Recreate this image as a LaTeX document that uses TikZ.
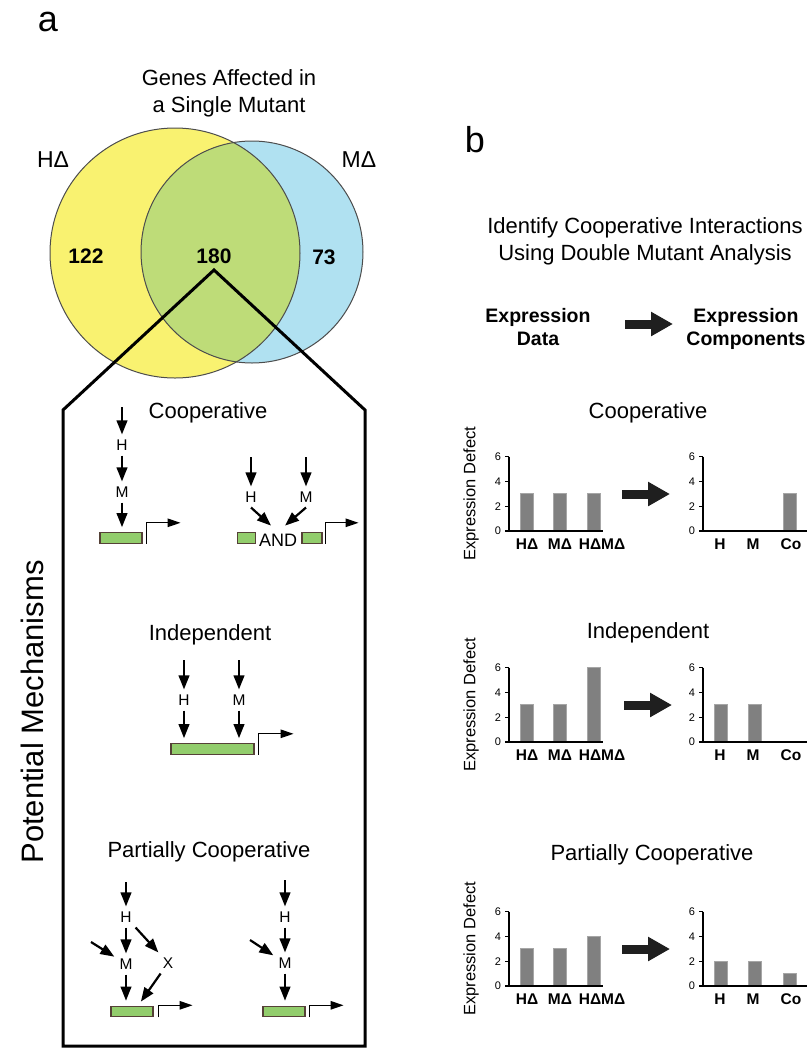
\documentclass[tikz,border=0pt]{standalone}
\usepackage{fontspec}
\setmainfont{Liberation Sans}
\usetikzlibrary{arrows.meta, positioning}

\definecolor{vennyellow}{RGB}{249,242,112}
\definecolor{vennblue}{RGB}{176,225,241}
\definecolor{venngreen}{RGB}{190,220,120}
\definecolor{genegreen}{RGB}{146,205,108}
\definecolor{geneedge}{RGB}{85,65,55}

\begin{document}
\begin{tikzpicture}[x=1pt, y=-1pt,
  every node/.style={inner sep=0pt},
  panel/.style={font=\fontsize{36}{40}\selectfont},
  heading/.style={font=\fontsize{22}{26}\selectfont, anchor=base},
  vcount/.style={font=\fontsize{21}{24}\selectfont\bfseries, anchor=base},
  strain/.style={font=\fontsize{23}{26}\selectfont, anchor=base},
  factor/.style={font=\fontsize{15.5}{18}\selectfont, inner sep=5pt},
  gene/.style={draw=geneedge, fill=genegreen, line width=1.1pt, minimum height=10.5pt},
  sig/.style={-{Triangle[length=14pt,width=10.5pt]}, line width=2.2pt},
  tss/.style={-{Triangle[length=13pt,width=8.5pt]}, line width=1.3pt},
  bigarr/.style={line width=9pt, -{Triangle[length=22pt,width=23pt]}, black!88},
  colhead/.style={font=\fontsize{19.5}{23}\selectfont\bfseries, anchor=base},
  chartaxis/.style={line width=1.8pt},
  tickmark/.style={line width=1.2pt},
  chartbar/.style={fill=black!50, draw=black!35, line width=0.8pt},
  barlab/.style={font=\fontsize{15.5}{18}\selectfont\bfseries, anchor=north, yshift=-7.5pt},
  ticklab/.style={font=\fontsize{11}{13}\selectfont, anchor=east, xshift=-3.5pt},
  ylab/.style={font=\fontsize{16.5}{20}\selectfont, rotate=90}
]
  \useasboundingbox (0,0) rectangle (810,1050);

  % Panel labels
  \node[panel] (pa) at (48,22) {a};
  \node[panel] (pb) at (475,140) {b};

  % Venn diagram
  \node[heading] (vt1) at (229,85) {Genes Affected in};
  \node[heading] (vt2) at (229,112) {a Single Mutant};
  \fill[vennyellow] (175,253) circle[radius=125];
  \fill[vennblue] (252,252) circle[radius=111];
  \begin{scope}
    \clip (175,253) circle[radius=125];
    \fill[venngreen] (252,252) circle[radius=111];
  \end{scope}
  \draw[black!70, line width=1pt] (175,253) circle[radius=125];
  \draw[black!70, line width=1pt] (252,252) circle[radius=111];
  \node[strain] (hdel) at (53,167) {HΔ};
  \node[strain] (mdel) at (359,167) {MΔ};
  \node[vcount] (n122) at (86,263) {122};
  \node[vcount] (n180) at (214,263) {180};
  \node[vcount] (n73) at (324,264) {73};

  % Outline of the mechanisms box
  \draw[line width=3pt, line join=miter] (214,270) -- (63,410) -- (63,1046)
    -- (365,1046) -- (365,410) -- cycle;
  \node[font=\fontsize{31}{36}\selectfont, rotate=90] (potmech) at (32,712) {Potential Mechanisms};

  % Cooperative mechanisms
  \node[heading] (mcoop) at (208,418) {Cooperative};
  \coordinate (c1in) at (122,407);
  \node[factor] (c1H) at (122,445) {H};
  \node[factor] (c1M) at (122,492) {M};
  \node[gene, minimum width=42pt] (c1g) at (121,538) {};
  \draw[sig] (c1in) -- (c1H);
  \draw[sig] (c1H) -- (c1M);
  \draw[sig, shorten >=5pt] (c1M) -- (c1M |- c1g.north);
  \draw[tss] ([xshift=4pt]c1g.south east) -- ++(0,-21) -- ++(34,0);

  \coordinate (c2inH) at (251,457);
  \coordinate (c2inM) at (306,457);
  \node[factor] (c2H) at (251,497) {H};
  \node[factor] (c2M) at (306,497) {M};
  \node[font=\fontsize{18}{20}\selectfont] (c2and) at (278,540) {AND};
  \node[gene, minimum width=18pt] (c2g1) at (246.5,538) {};
  \node[gene, minimum width=20pt] (c2g2) at (312,538) {};
  \draw[sig] (c2inH) -- (c2H);
  \draw[sig] (c2inM) -- (c2M);
  \draw[sig] (c2H.south) -- ([xshift=-7pt,yshift=8pt]c2and.north);
  \draw[sig] (c2M.south) -- ([xshift=7pt,yshift=8pt]c2and.north);
  \draw[tss] ([xshift=3pt]c2g2.south east) -- ++(0,-21) -- ++(33,0);

  % Independent mechanism
  \node[heading] (mind) at (210,640) {Independent};
  \coordinate (iinH) at (184,660);
  \coordinate (iinM) at (239,660);
  \node[factor] (iH) at (184,700) {H};
  \node[factor] (iM) at (239,700) {M};
  \node[gene, minimum width=83pt] (ig) at (212.5,749) {};
  \draw[sig] (iinH) -- (iH);
  \draw[sig] (iinM) -- (iM);
  \draw[sig, shorten >=5pt] (iH) -- (iH |- ig.north);
  \draw[sig, shorten >=5pt] (iM) -- (iM |- ig.north);
  \draw[tss] ([xshift=4pt]ig.south east) -- ++(0,-21) -- ++(35,0);

  % Partially cooperative mechanisms
  \node[heading] (mpart) at (209,857) {Partially Cooperative};
  \coordinate (p1in) at (126,882);
  \coordinate (p1side) at (91,942);
  \node[factor] (p1H) at (126,917) {H};
  \node[factor] (p1M) at (126,964) {M};
  \node[factor] (p1X) at (168,963) {X};
  \node[gene, minimum width=42pt] (p1g) at (132,1011.5) {};
  \draw[sig] (p1in) -- (p1H);
  \draw[sig] (p1H) -- (p1M);
  \draw[sig] (p1side) -- (p1M);
  \draw[sig] (p1H) -- (p1X);
  \draw[sig, shorten >=5pt] (p1X) -- ([xshift=6pt]p1g.north);
  \draw[sig, shorten >=5pt] (p1M) -- (p1M |- p1g.north);
  \draw[tss] ([xshift=5pt]p1g.south east) -- ++(0,-12) -- ++(34,0);

  \coordinate (p2in) at (285,880);
  \coordinate (p2side) at (250,940);
  \node[factor] (p2H) at (285,917) {H};
  \node[factor] (p2M) at (285,963) {M};
  \node[gene, minimum width=42pt] (p2g) at (284,1011.5) {};
  \draw[sig] (p2in) -- (p2H);
  \draw[sig] (p2H) -- (p2M);
  \draw[sig] (p2side) -- (p2M);
  \draw[sig, shorten >=5pt] (p2M) -- (p2M |- p2g.north);
  \draw[tss] ([xshift=4pt]p2g.south east) -- ++(0,-12) -- ++(34,0);

  % Panel b header
  \node[heading] (bt1) at (645,233) {Identify Cooperative Interactions};
  \node[heading] (bt2) at (645,260) {Using Double Mutant Analysis};
  \node[colhead] (hd1) at (538,322) {Expression};
  \node[colhead] (hd2) at (538,345) {Data};
  \node[colhead] (hc1) at (746,322) {Expression};
  \node[colhead] (hc2) at (746,345) {Components};
  \coordinate (hx1) at (625,324);
  \coordinate (hx2) at (673,324);
  \draw[bigarr] (hx1) -- (hx2);

  % Cooperative charts
  \node[heading] (bcoop) at (648,418) {Cooperative};
  \begin{scope}[shift={(509,531)}, y=12.4pt]
    \foreach \bx/\bh in {17.5/3, 51/3, 85/3}
      \draw[chartbar] (\bx-6.5,0) rectangle (\bx+6.5,\bh);
    \draw[chartaxis] (0,6) -- (0,0) -- (94,0);
    \foreach \v in {0,2,4,6}
      \draw[tickmark] (0,\v) -- (-4,\v) node[ticklab] (cdt\v) {\v};
    \node[barlab] (cd1) at (18,0) {HΔ};
    \node[barlab] (cd2) at (51,0) {MΔ};
    \node[barlab] (cd3) at (93,0) {HΔMΔ};
    \node[ylab] (cdy) at (-38,3) {Expression Defect};
  \end{scope}
  \begin{scope}[shift={(703,531)}, y=12.4pt]
    \draw[chartbar] (80,0) rectangle (93,3);
    \draw[chartaxis] (0,6) -- (0,0) -- (104,0);
    \foreach \v in {0,2,4,6}
      \draw[tickmark] (0,\v) -- (-4,\v) node[ticklab] (cct\v) {\v};
    \node[barlab] (cc1) at (17,0) {H};
    \node[barlab] (cc2) at (50,0) {M};
    \node[barlab] (cc3) at (88,0) {Co};
  \end{scope}
  \coordinate (cx1) at (622,494);
  \coordinate (cx2) at (670,494);
  \draw[bigarr] (cx1) -- (cx2);

  % Independent charts
  \node[heading] (bind) at (648,638) {Independent};
  \begin{scope}[shift={(509,742)}, y=12.4pt]
    \foreach \bx/\bh in {17.5/3, 51/3, 85/6}
      \draw[chartbar] (\bx-6.5,0) rectangle (\bx+6.5,\bh);
    \draw[chartaxis] (0,6) -- (0,0) -- (94,0);
    \foreach \v in {0,2,4,6}
      \draw[tickmark] (0,\v) -- (-4,\v) node[ticklab] (idt\v) {\v};
    \node[barlab] (id1) at (18,0) {HΔ};
    \node[barlab] (id2) at (51,0) {MΔ};
    \node[barlab] (id3) at (93,0) {HΔMΔ};
    \node[ylab] (idy) at (-38,3) {Expression Defect};
  \end{scope}
  \begin{scope}[shift={(703,742)}, y=12.4pt]
    \foreach \bx/\bh in {18/3, 52/3}
      \draw[chartbar] (\bx-6.5,0) rectangle (\bx+6.5,\bh);
    \draw[chartaxis] (0,6) -- (0,0) -- (104,0);
    \foreach \v in {0,2,4,6}
      \draw[tickmark] (0,\v) -- (-4,\v) node[ticklab] (ict\v) {\v};
    \node[barlab] (ic1) at (17,0) {H};
    \node[barlab] (ic2) at (50,0) {M};
    \node[barlab] (ic3) at (88,0) {Co};
  \end{scope}
  \coordinate (ix1) at (624,705);
  \coordinate (ix2) at (672,705);
  \draw[bigarr] (ix1) -- (ix2);

  % Partially cooperative charts
  \node[heading] (bpart) at (652,860) {Partially Cooperative};
  \begin{scope}[shift={(509,986)}, y=12.4pt]
    \foreach \bx/\bh in {17.5/3, 51/3, 85/4}
      \draw[chartbar] (\bx-6.5,0) rectangle (\bx+6.5,\bh);
    \draw[chartaxis] (0,6) -- (0,0) -- (94,0);
    \foreach \v in {0,2,4,6}
      \draw[tickmark] (0,\v) -- (-4,\v) node[ticklab] (pdt\v) {\v};
    \node[barlab] (pd1) at (18,0) {HΔ};
    \node[barlab] (pd2) at (51,0) {MΔ};
    \node[barlab] (pd3) at (93,0) {HΔMΔ};
    \node[ylab] (pdy) at (-38,3) {Expression Defect};
  \end{scope}
  \begin{scope}[shift={(703,986)}, y=12.4pt]
    \foreach \bx/\bh in {18/2, 52/2, 86.5/1}
      \draw[chartbar] (\bx-6.5,0) rectangle (\bx+6.5,\bh);
    \draw[chartaxis] (0,6) -- (0,0) -- (104,0);
    \foreach \v in {0,2,4,6}
      \draw[tickmark] (0,\v) -- (-4,\v) node[ticklab] (pct\v) {\v};
    \node[barlab] (pc1) at (17,0) {H};
    \node[barlab] (pc2) at (50,0) {M};
    \node[barlab] (pc3) at (88,0) {Co};
  \end{scope}
  \coordinate (px1) at (622,949);
  \coordinate (px2) at (670,949);
  \draw[bigarr] (px1) -- (px2);
\end{tikzpicture}
\end{document}
